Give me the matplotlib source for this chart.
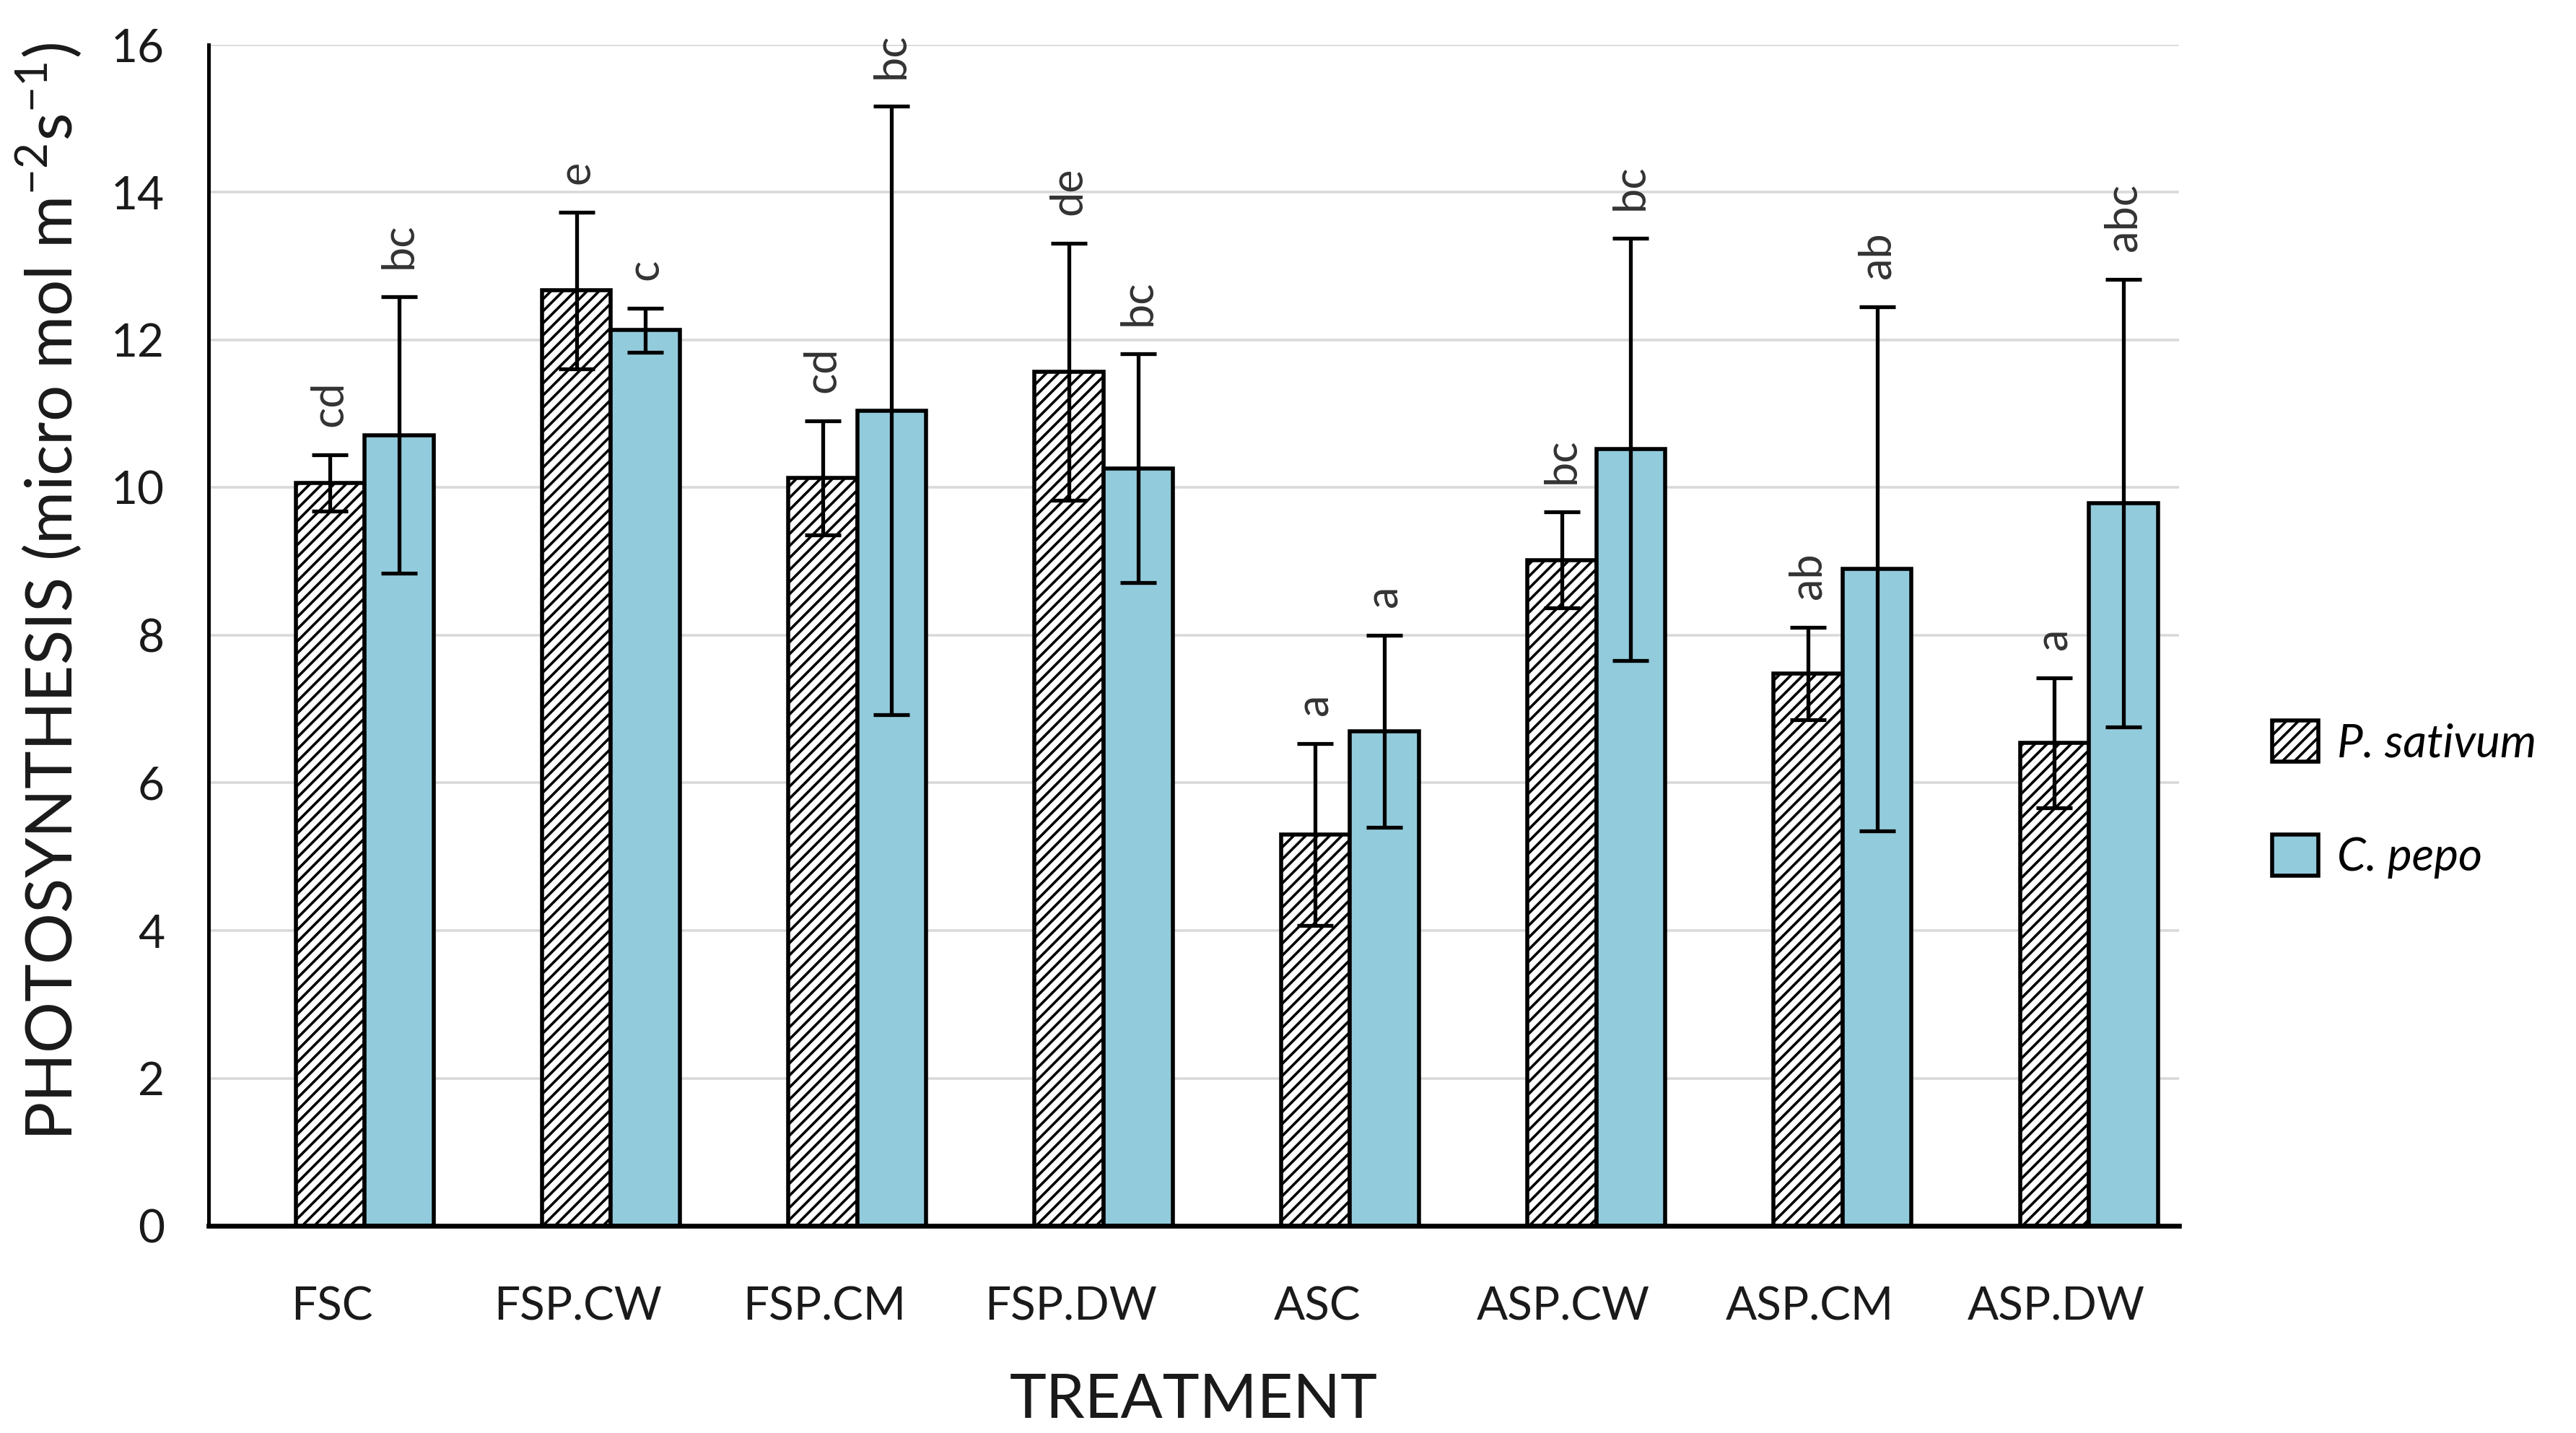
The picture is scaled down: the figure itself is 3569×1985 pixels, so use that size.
import numpy as np
import matplotlib
matplotlib.use('Agg')
import matplotlib.pyplot as plt

plt.rcParams['font.family'] = ['Lato', 'DejaVu Sans']
plt.rcParams['mathtext.fontset'] = 'custom'
plt.rcParams['mathtext.rm'] = 'Lato'
plt.rcParams['hatch.linewidth'] = 1.3

treatments = ['FSC', 'FSP.CW', 'FSP.CM', 'FSP.DW', 'ASC', 'ASP.CW', 'ASP.CM', 'ASP.DW']
sativum = [10.06, 12.67, 10.13, 11.57, 5.30, 9.02, 7.48, 6.54]
sativum_err = [0.38, 1.06, 0.77, 1.74, 1.23, 0.65, 0.63, 0.88]
pepo = [10.71, 12.13, 11.04, 10.26, 6.70, 10.52, 8.90, 9.79]
pepo_err = [1.87, 0.30, 4.12, 1.55, 1.30, 2.86, 3.55, 3.03]
sativum_letters = ['cd', 'e', 'cd', 'de', 'a', 'bc', 'ab', 'a']
pepo_letters = ['bc', 'c', 'bc', 'bc', 'a', 'bc', 'ab', 'abc']

fig = plt.figure(figsize=(3569 / 200, 1985 / 200), dpi=200)
ax = fig.add_axes([0.081, 0.1445, 0.765, 0.8245])

x = np.arange(len(treatments))
w = 0.28
shift = 0.133
blue = '#92CBDC'

ax.bar(x + shift - w / 2, sativum, w, color='white', edgecolor='black', hatch='////',
       linewidth=2.0, label='P. sativum', zorder=3)
ax.bar(x + shift + w / 2, pepo, w, color=blue, edgecolor='black',
       linewidth=2.0, label='C. pepo', zorder=3)
ax.errorbar(x + shift - w / 2, sativum, yerr=sativum_err, fmt='none', ecolor='black',
            elinewidth=1.9, capsize=9, capthick=1.9, zorder=4)
ax.errorbar(x + shift + w / 2, pepo, yerr=pepo_err, fmt='none', ecolor='black',
            elinewidth=1.9, capsize=9, capthick=1.9, zorder=4)

# significance letters above the error bars
for i in range(len(treatments)):
    ax.text(x[i] + shift - w / 2, sativum[i] + sativum_err[i] + 0.38, sativum_letters[i],
            rotation=90, ha='center', va='bottom', fontsize=22, color='#333333')
    ax.text(x[i] + shift + w / 2, pepo[i] + pepo_err[i] + 0.38, pepo_letters[i],
            rotation=90, ha='center', va='bottom', fontsize=22, color='#333333')

ax.set_xlim(-0.5, 7.5)
ax.set_ylim(0, 16)
ax.set_yticks(np.arange(0, 17, 2))
ax.set_xticks(x)
ax.set_xticklabels(treatments)
ax.tick_params(axis='both', length=0, labelsize=23, colors='#1a1a1a')
ax.tick_params(axis='y', pad=22)
ax.tick_params(axis='x', pad=30)
ax.yaxis.grid(True, color='#D9D9D9', linewidth=1.3, zorder=0)
ax.set_axisbelow(True)
for s in ['top', 'right']:
    ax.spines[s].set_visible(False)
ax.spines['left'].set_linewidth(1.8)
ax.spines['bottom'].set_linewidth(2.4)
ax.spines['left'].set_zorder(5)
ax.spines['bottom'].set_zorder(5)

ax.set_xlabel('TREATMENT', fontsize=31, color='#1a1a1a', labelpad=22)
fig.text(0.019, 0.587, 'PHOTOSYNTHESIS (micro mol m$^{-2}$s$^{-1}$)', rotation=90,
         ha='center', va='center', fontsize=32, color='#1a1a1a')

leg = fig.legend(loc='center left', bbox_to_anchor=(0.866, 0.442), frameon=False,
                 prop={'style': 'italic', 'size': 23}, handlelength=1.0, handleheight=1.0,
                 labelspacing=1.5, handletextpad=0.4)

fig.savefig('out.png', dpi=200)
